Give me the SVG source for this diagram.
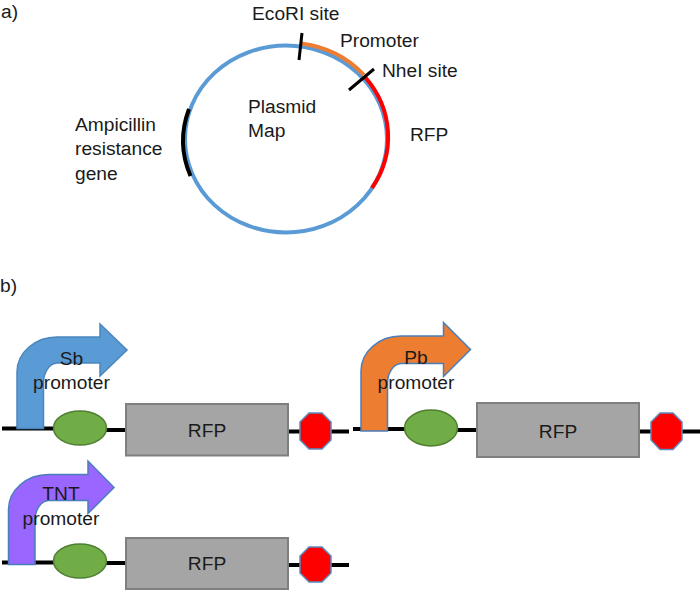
<svg xmlns="http://www.w3.org/2000/svg" width="700" height="590" viewBox="0 0 700 590">
<style>
text{font-family:"Liberation Sans",Arial,sans-serif;font-size:19.2px;fill:#1a1a1a}
.m{text-anchor:middle}
.arc{fill:none;stroke-width:4}
.bb{fill:none;stroke:#000;stroke-width:4}
.rbs{fill:#70ad47;stroke:#507e32;stroke-width:1.5}
.rfp{fill:#a5a5a5;stroke:#7f7f7f;stroke-width:2}
.stop{fill:#f00;stroke:#5b8bc0;stroke-width:1.5}
.pr{stroke-width:1.5}
</style>
<g id="labels">
<text x="1" y="18">a)</text>
<text x="0" y="292">b)</text>
</g>
<g id="plasmid">
<ellipse cx="286" cy="139" rx="101" ry="93.500" fill="none" stroke="#5b9bd5" stroke-width="4"/>
<path class="arc" stroke="#ed7d31" d="M301 43.500A102 95 0 0 1 364 75"/>
<path class="arc" stroke="#f00" d="M365 77A103 95 0 0 1 372 188"/>
<path class="arc" stroke="#000" d="M189 109A102 95 0 0 0 190.500 176"/>
<path d="M302 33L299 60M374 69L349 90" stroke="#000" stroke-width="3" fill="none"/>
<text x="252" y="19.500">EcoRI site</text>
<text x="340" y="46.500">Promoter</text>
<text x="382" y="76.500">NheI site</text>
<text x="410" y="141">RFP</text>
<text x="248" y="113">Plasmid</text>
<text x="248" y="137">Map</text>
<text x="75" y="131">Ampicillin</text>
<text x="75" y="155">resistance</text>
<text x="75" y="179.500">gene</text>
</g>
<g id="connectors">
<path class="bb" d="M2 428.500H55M105 430H126M288 431.500H349"/>
<path class="bb" d="M353 429H405M457 430H477M639 431.500H700"/>
<path class="bb" d="M2 562.500H55M105 563H126M288 565H349"/>
</g>
<g id="sb-construct">
<path class="pr" fill="#5b9bd5" stroke="#4a86bd" d="M17 428.500V372A40 35 0 0 1 57 337H100V324L127 350L100 376V363H57A14 20 0 0 0 43.500 383V428.500Z"/>
<ellipse class="rbs" cx="80" cy="428" rx="26.500" ry="17"/>
<rect class="rfp" x="126" y="404" width="162" height="51.500"/>
<path class="stop" d="M309 413H322L331 422V440L322 449H309L300 440V422Z"/>
<text class="m" x="71.500" y="364.500">Sb</text>
<text class="m" x="71.500" y="389">promoter</text>
<text class="m" x="207" y="437">RFP</text>
</g>
<g id="pb-construct">
<path class="pr" fill="#ed7d31" stroke="#4a7ebb" d="M361 431V371A40 35 0 0 1 401 336H443.500V322.500L470.500 349.500L443.500 376.500V363.500H401A14 20 0 0 0 387.500 383.500V431Z"/>
<ellipse class="rbs" cx="431" cy="428" rx="26.500" ry="18"/>
<rect class="rfp" x="477" y="403" width="162" height="54"/>
<path class="stop" d="M660 413H673L682 422V440L673 449.500H660L651 440V422Z"/>
<text class="m" x="416" y="364">Pb</text>
<text class="m" x="416" y="389">promoter</text>
<text class="m" x="558" y="437.500">RFP</text>
</g>
<g id="tnt-construct">
<path class="pr" fill="#9966ff" stroke="#4a7ebb" d="M8.500 564.500V509.500A40 35 0 0 1 48.500 474.500H88V461L114 487.500L88 513.500V500.500H48.500A14 20 0 0 0 35 520.500V564.500Z"/>
<ellipse class="rbs" cx="80" cy="561" rx="26.500" ry="17"/>
<rect class="rfp" x="126" y="538" width="162" height="51"/>
<path class="stop" d="M309 547H322L331 556V573L322 582H309L300 573V556Z"/>
<text class="m" x="61" y="500">TNT</text>
<text class="m" x="61" y="525">promoter</text>
<text class="m" x="207" y="570">RFP</text>
</g>
</svg>
